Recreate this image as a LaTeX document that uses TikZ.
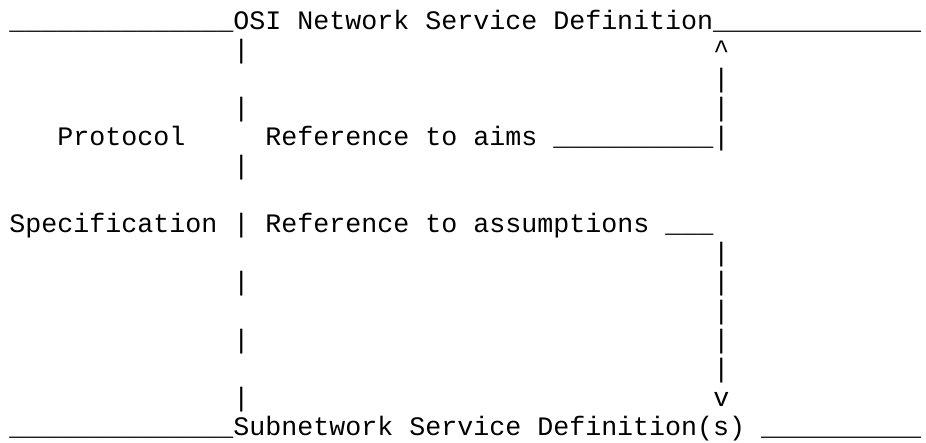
\documentclass[tikz,border=0pt]{standalone}
\usepackage{fontspec}
\setmonofont{Liberation Mono}
\usepackage{tikz}
\tikzset{ascii/.style={anchor=base west,inner sep=0pt,
    font=\ttfamily\fontsize{13.33}{14.5}\selectfont}}
\newcommand{\uline}[1]{\foreach \i in {1,...,#1}{\_}}

\begin{document}
\begin{tikzpicture}[x=8pt,y=-14.5pt]
	\useasboundingbox (-0.5625,-1.0345) rectangle (57.3125,14.2414);
	% upper service definition
	\node[ascii] (osi) at (0,0) {\uline{14}OSI Network Service Definition\uline{13}};
	\node[ascii] (up) at (44,1) {\textasciicircum};
	% left column
	\node[ascii] (prot) at (3,4) {Protocol};
	\node[ascii] (spec) at (0,7) {Specification |};
	\foreach \r in {1,3,5,9,11,13}
		\node[ascii] (lbar\r) at (14,\r) {|};
	% references
	\node[ascii] (aims) at (16,4) {Reference to aims \uline{10}|};
	\node[ascii] (assum) at (16,7) {Reference to assumptions \uline{3}};
	\foreach \r in {2,3,8,9,10,11,12}
		\node[ascii] (rbar\r) at (44,\r) {|};
	\node[ascii] (down) at (44,13) {v};
	% lower service definition
	\node[ascii] (sub) at (0,14) {\uline{14}Subnetwork Service Definition(s) \uline{10}};
\end{tikzpicture}
\end{document}
